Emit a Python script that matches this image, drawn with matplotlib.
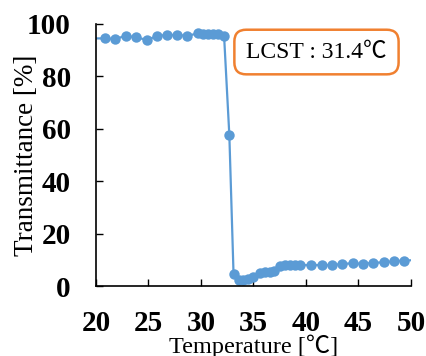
import numpy as np
import matplotlib.pyplot as plt

plt.rcParams['font.family'] = ['Liberation Serif', 'Noto Sans CJK JP', 'DejaVu Serif']

# 溫度 [℃] / 穿透率 [%]
temp = [19.0, 20.9, 21.8, 22.9, 23.8, 24.9, 25.8, 26.8, 27.7, 28.7,
        29.7, 30.2, 30.7, 31.1, 31.6, 32.2, 32.7,
        33.1, 33.6, 34.0, 34.5, 35.0, 35.6, 36.1, 36.6, 37.0, 37.5,
        38.0, 38.5, 39.0, 39.4, 40.5, 41.5, 42.5, 43.4, 44.5, 45.4,
        46.4, 47.4, 48.4, 49.3, 51.0]
trans = [94.5, 94.5, 94.3, 95.5, 94.9, 93.9, 95.5, 95.8, 95.8, 95.5,
         96.4, 96.2, 96.2, 96.2, 96.1, 95.4, 57.6,
         4.6, 2.3, 2.3, 2.6, 3.5, 4.8, 5.2, 5.2, 5.7, 7.6,
         8.0, 8.0, 8.0, 8.0, 8.0, 8.0, 8.0, 8.4, 8.7, 8.4,
         8.9, 9.0, 9.5, 9.7, 10.0]

x_ticks = [20, 25, 30, 35, 40, 45, 50]
y_ticks = [0, 20, 40, 60, 80, 100]
lcst_text = "LCST : 31.4℃"

fig = plt.figure(figsize=(4.27, 3.56), dpi=100)
ax = fig.add_axes([0.2248, 0.1966, 0.7377, 0.736])

ax.plot(temp, trans, color='#5B9BD5', lw=1.6, marker='o', ms=7.5,
        markeredgewidth=0)

ax.set_xlim(20, 50)
ax.set_ylim(0, 100)
ax.set_xticks(x_ticks)
ax.set_yticks(y_ticks)
ax.tick_params(axis='x', direction='in', length=5, width=1, labelsize=21, pad=17)
ax.tick_params(axis='y', direction='in', length=5, width=1, labelsize=21, pad=18)
for lab in ax.get_xticklabels() + ax.get_yticklabels():
    lab.set_fontweight('bold')

ax.spines['top'].set_visible(False)
ax.spines['right'].set_visible(False)
ax.spines['left'].set_linewidth(1.2)
ax.spines['bottom'].set_linewidth(1.2)

ax.set_xlabel("Temperature [℃]", fontsize=17.5)
ax.set_ylabel("Transmittance [%]", fontsize=19.5)
ax.xaxis.set_label_coords(0.5, -0.185)
ax.yaxis.set_label_coords(-0.18, 0.5)

ax.text(0.70, 0.893, lcst_text, transform=ax.transAxes, fontsize=17,
        ha='center', va='center',
        bbox=dict(boxstyle='round,pad=0.5,rounding_size=0.5', fc='white',
                  ec='#F08030', lw=1.8))

fig.savefig("out.png", dpi=100)
